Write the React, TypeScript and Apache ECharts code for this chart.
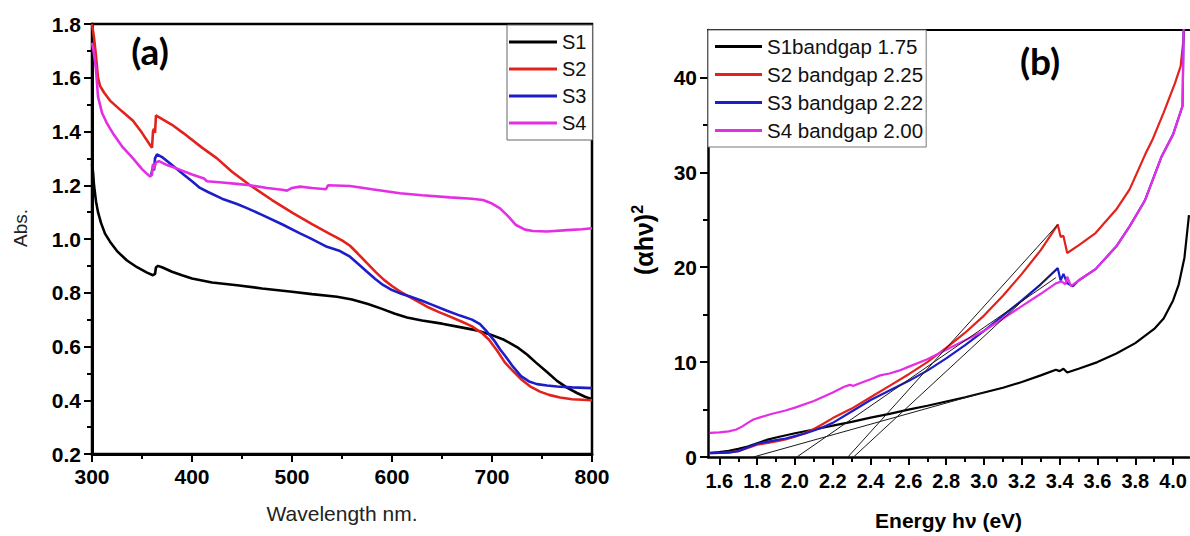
import { useEffect, useRef } from "react";
import * as echarts from "echarts";

// ---- panel (a): absorbance spectra ----
const sampleNames = ["S1", "S2", "S3", "S4"];
const sampleColors = ["#000000", "#e3221c", "#1d1dc9", "#e42ee4"];

const absS1: number[][] = [
  [300, 1.28], [301, 1.25], [302, 1.2], [304, 1.14], [306, 1.1], [309, 1.06], [313, 1.02], [318, 0.99],
  [325, 0.955], [335, 0.92], [345, 0.895], [355, 0.875], [361, 0.865], [363, 0.87], [364, 0.895], [366, 0.9],
  [370, 0.895], [380, 0.878], [390, 0.865], [400, 0.853], [420, 0.838], [445, 0.828], [470, 0.816], [500, 0.804],
  [520, 0.795], [545, 0.785], [560, 0.775], [576, 0.758], [590, 0.74], [603, 0.722], [615, 0.708], [630, 0.697],
  [650, 0.685], [668, 0.672], [685, 0.66], [698, 0.645], [712, 0.625], [725, 0.598], [735, 0.57], [744, 0.54],
  [755, 0.505], [765, 0.472], [775, 0.447], [785, 0.427], [793, 0.413], [800, 0.404],
];
const absS2: number[][] = [
  [300, 1.8], [302, 1.75], [304, 1.68], [306, 1.6], [308, 1.57], [312, 1.545], [318, 1.515], [330, 1.475],
  [341, 1.44], [350, 1.395], [358, 1.35], [360, 1.34], [361, 1.4], [362, 1.41], [363, 1.395], [364, 1.46],
  [366, 1.455], [380, 1.425], [391, 1.395], [410, 1.34], [425, 1.3], [440, 1.25], [458, 1.2], [480, 1.145],
  [501, 1.096], [520, 1.055], [535, 1.025], [550, 0.995], [558, 0.975], [566, 0.945], [575, 0.91], [584, 0.876],
  [592, 0.848], [600, 0.825], [610, 0.8], [622, 0.775], [635, 0.748], [647, 0.728], [658, 0.711], [670, 0.692],
  [680, 0.675], [690, 0.65], [697, 0.625], [705, 0.585], [713, 0.54], [722, 0.505], [730, 0.475], [738, 0.452],
  [748, 0.432], [757, 0.42], [768, 0.41], [780, 0.404], [790, 0.402], [800, 0.4],
];
const absS3: number[][] = [
  [359, 1.235], [361, 1.27], [362, 1.255], [363, 1.3], [365, 1.315], [370, 1.305], [380, 1.275], [390, 1.245],
  [400, 1.215], [408, 1.19], [416, 1.175], [430, 1.15], [445, 1.13], [455, 1.115], [470, 1.09], [490, 1.055],
  [508, 1.021], [518, 1.003], [535, 0.971], [548, 0.955], [558, 0.934], [566, 0.908], [575, 0.878], [583, 0.852],
  [591, 0.829], [600, 0.81], [610, 0.795], [618, 0.786], [630, 0.77], [641, 0.754], [655, 0.733], [668, 0.715],
  [680, 0.7], [688, 0.683], [695, 0.655], [702, 0.623], [708, 0.59], [714, 0.561], [721, 0.525], [729, 0.49],
  [737, 0.47], [745, 0.46], [755, 0.455], [765, 0.451], [780, 0.448], [800, 0.445],
];
const absS4: number[][] = [
  [300, 1.73], [302, 1.69], [304, 1.63], [306, 1.53], [310, 1.47], [315, 1.43], [321, 1.393], [330, 1.345],
  [341, 1.3], [350, 1.26], [358, 1.232], [360, 1.24], [361, 1.28], [362, 1.26], [364, 1.285], [367, 1.29],
  [375, 1.275], [385, 1.262], [400, 1.24], [412, 1.225], [415, 1.215], [430, 1.21], [445, 1.205], [458, 1.2],
  [475, 1.19], [490, 1.183], [495, 1.18], [500, 1.19], [508, 1.195], [520, 1.19], [534, 1.185], [536, 1.2],
  [558, 1.197], [580, 1.185], [608, 1.17], [630, 1.163], [658, 1.155], [680, 1.15], [691, 1.145], [700, 1.132],
  [708, 1.114], [716, 1.085], [724, 1.052], [733, 1.035], [741, 1.03], [755, 1.028], [775, 1.033], [790, 1.036],
  [800, 1.04],
];
const absSeries = [absS1, absS2, absS3, absS4];

// ---- panel (b): Tauc plot ----
const bandgapNames = ["S1bandgap 1.75", "S2 bandgap 2.25", "S3 bandgap 2.22", "S4 bandgap 2.00"];

const taucS1: number[][] = [
  [1.55, 0.45], [1.6, 0.52], [1.65, 0.65], [1.7, 0.85], [1.75, 1.1], [1.8, 1.45], [1.85, 1.8], [1.9, 2.05],
  [2.0, 2.5], [2.1, 2.9], [2.2, 3.3], [2.3, 3.7], [2.4, 4.15], [2.5, 4.55], [2.6, 5.0], [2.7, 5.4], [2.8, 5.85],
  [2.9, 6.3], [3.0, 6.8], [3.1, 7.3], [3.2, 7.9], [3.3, 8.6], [3.38, 9.2], [3.4, 9.05], [3.42, 9.3], [3.44, 8.9],
  [3.5, 9.3], [3.6, 10.0], [3.7, 10.9], [3.8, 12.0], [3.9, 13.5], [3.95, 14.6], [4.0, 16.5], [4.03, 18.2],
  [4.06, 21.0], [4.084, 25.5],
];
const taucS2: number[][] = [
  [1.55, 0.4], [1.6, 0.42], [1.65, 0.48], [1.7, 0.62], [1.75, 0.95], [1.8, 1.3], [1.85, 1.45], [1.9, 1.65],
  [1.95, 1.85], [2.0, 2.15], [2.05, 2.5], [2.1, 2.95], [2.15, 3.5], [2.2, 4.1], [2.3, 5.1], [2.4, 6.3], [2.5, 7.5],
  [2.6, 8.7], [2.7, 10.0], [2.8, 11.5], [2.9, 13.1], [3.0, 14.9], [3.1, 17.0], [3.2, 19.3], [3.3, 21.8],
  [3.39, 24.5], [3.405, 23.2], [3.42, 23.3], [3.44, 21.5], [3.5, 22.3], [3.59, 23.6], [3.7, 26.1], [3.77, 28.2],
  [3.855, 32.0], [3.89, 33.4], [3.95, 36.3], [4.01, 39.4], [4.04, 41.2], [4.055, 44.0], [4.06, 45.5],
];
const taucS3: number[][] = [
  [1.55, 0.4], [1.6, 0.42], [1.65, 0.46], [1.7, 0.62], [1.75, 1.0], [1.8, 1.4], [1.85, 1.6], [1.9, 1.78],
  [1.95, 1.95], [2.0, 2.2], [2.05, 2.45], [2.1, 2.8], [2.15, 3.15], [2.2, 3.6], [2.3, 4.8], [2.4, 6.0], [2.5, 7.0],
  [2.6, 8.0], [2.7, 9.1], [2.8, 10.4], [2.9, 11.8], [3.0, 13.3], [3.1, 14.9], [3.2, 16.5], [3.3, 18.2],
  [3.39, 19.9], [3.405, 18.6], [3.42, 19.3], [3.44, 18.3], [3.47, 18.0], [3.5, 18.6], [3.59, 19.8], [3.7, 22.2],
  [3.77, 24.3], [3.85, 27.0], [3.94, 31.7], [4.0, 34.0], [4.05, 37.0], [4.056, 45.5],
];
const taucS4: number[][] = [
  [1.55, 2.55], [1.6, 2.6], [1.65, 2.7], [1.69, 2.9], [1.72, 3.2], [1.75, 3.6], [1.78, 3.95], [1.82, 4.2],
  [1.87, 4.5], [1.95, 4.9], [2.0, 5.2], [2.1, 5.9], [2.2, 6.8], [2.26, 7.4], [2.29, 7.6], [2.31, 7.5], [2.34, 7.75],
  [2.4, 8.2], [2.45, 8.6], [2.5, 8.8], [2.55, 9.1], [2.6, 9.5], [2.7, 10.3], [2.8, 11.3], [2.9, 12.3], [3.0, 13.3],
  [3.1, 14.6], [3.2, 15.9], [3.3, 17.2], [3.38, 18.3], [3.41, 18.5], [3.43, 18.2], [3.44, 19.0], [3.46, 18.0],
  [3.5, 18.6], [3.59, 19.8], [3.7, 22.2], [3.77, 24.3], [3.85, 27.0], [3.94, 31.7], [4.0, 34.0], [4.05, 37.0],
  [4.056, 45.5],
];
const taucSeries = [taucS1, taucS2, taucS3, taucS4];

// linear extrapolations to the energy axis (start on the axis, end on the curve)
const fitS1: number[][] = [[1.78, 0], [3.0, 6.8]];
const fitS2: number[][] = [[2.28, 0], [3.39, 24.5]];
const fitS3: number[][] = [[2.31, 0], [3.39, 19.9]];
const fitS4: number[][] = [[2.01, 0], [3.38, 18.9]];
const fitLines = [fitS1, fitS2, fitS3, fitS4];

// axis ticks
const energyTicks = [1.6, 1.8, 2.0, 2.2, 2.4, 2.6, 2.8, 3.0, 3.2, 3.4, 3.6, 3.8, 4.0];
const energyMinorTicks = [1.7, 1.9, 2.1, 2.3, 2.5, 2.7, 2.9, 3.1, 3.3, 3.5, 3.7, 3.9, 4.1];
const taucTicks = [0, 10, 20, 30, 40];
const taucMinorTicks = [5, 15, 25, 35];

const ENERGY_MIN = 1.54;
const ENERGY_MAX = 4.085;

const FONT = "'Liberation Sans', Arial, Helvetica, sans-serif";
const AXIS_COLOR = "#000";

const legendIcon = "path://M0,0 L48,0 L48,3 L0,3 Z";

function App() {
  const ref = useRef<HTMLDivElement>(null);

  useEffect(() => {
    if (!ref.current) return;
    const chart = echarts.init(ref.current, undefined, { renderer: "svg" });

    const tickLabel = {
      color: "#000",
      fontFamily: FONT,
      fontWeight: "bold" as const,
      fontSize: 21,
    };

    const series: any[] = [];
    absSeries.forEach((data, i) => {
      series.push({
        name: sampleNames[i],
        type: "line",
        xAxisIndex: 0,
        yAxisIndex: 0,
        data,
        color: sampleColors[i],
        symbol: "none",
        lineStyle: { width: 2.6, color: sampleColors[i] },
      });
    });
    taucSeries.forEach((data, i) => {
      series.push({
        name: bandgapNames[i],
        type: "line",
        xAxisIndex: 1,
        yAxisIndex: 1,
        data,
        color: sampleColors[i],
        symbol: "none",
        lineStyle: { width: 2.2, color: sampleColors[i] },
      });
    });
    fitLines.forEach((data, i) => {
      series.push({
        name: "fit" + (i + 1),
        type: "line",
        xAxisIndex: 1,
        yAxisIndex: 1,
        data,
        color: "#1a1a1a",
        symbol: "none",
        lineStyle: { width: 1, color: "#1a1a1a" },
        z: 5,
      });
    });

    chart.setOption({
      animation: false,
      backgroundColor: "#fff",
      grid: [
        {
          left: 92, top: 24, width: 500, height: 430,
          show: true, borderColor: AXIS_COLOR, borderWidth: 2.5, backgroundColor: "transparent",
        },
        { left: 708, top: 30, right: 0, height: 428 },
      ],
      xAxis: [
        {
          gridIndex: 0, type: "value", min: 300, max: 800, interval: 100,
          axisLine: { show: true, lineStyle: { color: AXIS_COLOR, width: 3 } },
          axisTick: { show: true, length: 8, lineStyle: { color: AXIS_COLOR, width: 2 } },
          minorTick: { show: true, splitNumber: 2, length: 5, lineStyle: { color: AXIS_COLOR, width: 2 } },
          splitLine: { show: false },
          axisLabel: { ...tickLabel, margin: 12 },
          name: "Wavelength nm.", nameLocation: "middle", nameGap: 49,
          nameTextStyle: { fontFamily: FONT, fontSize: 21, color: "#222" },
        },
        {
          gridIndex: 1, type: "value", min: ENERGY_MIN, max: ENERGY_MAX, position: "bottom",
          axisLine: { show: true, lineStyle: { color: AXIS_COLOR, width: 2.5 } },
          axisTick: { show: true, customValues: energyTicks, length: 8, lineStyle: { color: AXIS_COLOR, width: 2 } },
          splitLine: { show: false },
          axisLabel: {
            ...tickLabel, fontSize: 20, margin: 14, customValues: energyTicks,
            formatter: (v: number) => v.toFixed(1),
          },
          name: "Energy hν (eV)", nameLocation: "middle", nameGap: 53,
          nameTextStyle: { fontFamily: FONT, fontSize: 21, fontWeight: "bold", color: "#000" },
        },
        {
          gridIndex: 1, type: "value", min: ENERGY_MIN, max: ENERGY_MAX, position: "bottom", offset: 0,
          axisLine: { show: false },
          axisTick: { show: true, customValues: energyMinorTicks, length: 5, lineStyle: { color: AXIS_COLOR, width: 2 } },
          axisLabel: { show: false },
          splitLine: { show: false },
        },
        {
          // frame line along the top of panel (b)
          gridIndex: 1, type: "value", min: ENERGY_MIN, max: ENERGY_MAX, position: "top", offset: 0,
          axisLine: { show: true, onZero: false, lineStyle: { color: AXIS_COLOR, width: 2.2 } },
          axisTick: { show: false },
          axisLabel: { show: false },
          splitLine: { show: false },
        },
      ],
      yAxis: [
        {
          gridIndex: 0, type: "value", min: 0.2, max: 1.8, interval: 0.2,
          axisLine: { show: true, lineStyle: { color: AXIS_COLOR, width: 3 } },
          axisTick: { show: true, length: 8, lineStyle: { color: AXIS_COLOR, width: 2 } },
          minorTick: { show: true, splitNumber: 2, length: 5, lineStyle: { color: AXIS_COLOR, width: 2 } },
          splitLine: { show: false },
          axisLabel: { ...tickLabel, margin: 11, formatter: (v: number) => v.toFixed(1) },
        },
        {
          gridIndex: 1, type: "value", min: 0, max: 45, position: "left",
          axisLine: { show: true, lineStyle: { color: AXIS_COLOR, width: 2.5 } },
          axisTick: { show: true, customValues: taucTicks, length: 8, lineStyle: { color: AXIS_COLOR, width: 2 } },
          splitLine: { show: false },
          axisLabel: { ...tickLabel, margin: 11, customValues: taucTicks },
        },
        {
          gridIndex: 1, type: "value", min: 0, max: 45, position: "left", offset: 0,
          axisLine: { show: false },
          axisTick: { show: true, customValues: taucMinorTicks, length: 5, lineStyle: { color: AXIS_COLOR, width: 2 } },
          axisLabel: { show: false },
          splitLine: { show: false },
        },
      ],
      legend: [
        {
          data: sampleNames,
          orient: "vertical",
          left: 507, top: 25,
          padding: [7, 6, 7, 2],
          itemWidth: 48, itemHeight: 20, itemGap: 7,
          icon: legendIcon,
          borderColor: "#666", borderWidth: 1,
          backgroundColor: "#fff",
          selectedMode: false,
          textStyle: { fontFamily: FONT, fontSize: 20, color: "#111", lineHeight: 20 },
        },
        {
          data: bandgapNames,
          orient: "vertical",
          left: 708, top: 30,
          padding: [6, 3, 6, 7],
          itemWidth: 47, itemHeight: 20, itemGap: 7,
          icon: legendIcon,
          borderColor: "#777", borderWidth: 1,
          backgroundColor: "#fff",
          selectedMode: false,
          textStyle: { fontFamily: FONT, fontSize: 20.5, color: "#111", lineHeight: 20 },
        },
      ],
      graphic: [
        {
          type: "text", x: 150, y: 50,
          style: { text: "(a)", font: "bold 37px Lato, 'Open Sans', sans-serif", fill: "#000", align: "center", verticalAlign: "middle" },
        },
        {
          type: "text", x: 1040, y: 60,
          style: { text: "(b)", font: "bold 37px Lato, 'Open Sans', sans-serif", fill: "#000", align: "center", verticalAlign: "middle" },
        },
        {
          type: "text", x: 20, y: 228, rotation: Math.PI / 2,
          style: { text: "Abs.", font: `19px ${FONT}`, fill: "#222", align: "center", verticalAlign: "middle" },
        },
        {
          type: "text", x: 644, y: 240, rotation: Math.PI / 2,
          style: {
            text: "{m|(αhν)}{s|2}",
            align: "center", verticalAlign: "middle",
            rich: {
              m: { font: `bold 25px ${FONT}`, fill: "#000", lineHeight: 30 },
              s: { font: `bold 16px ${FONT}`, fill: "#000", verticalAlign: "top", lineHeight: 30 },
            },
          },
        },
      ],
      series,
    });

    return () => chart.dispose();
  }, []);

  return (
    <div
      ref={ref}
      style={{ position: "fixed", left: 0, top: 0, width: 1190, height: 536, background: "#fff" }}
    />
  );
}

export default App;
